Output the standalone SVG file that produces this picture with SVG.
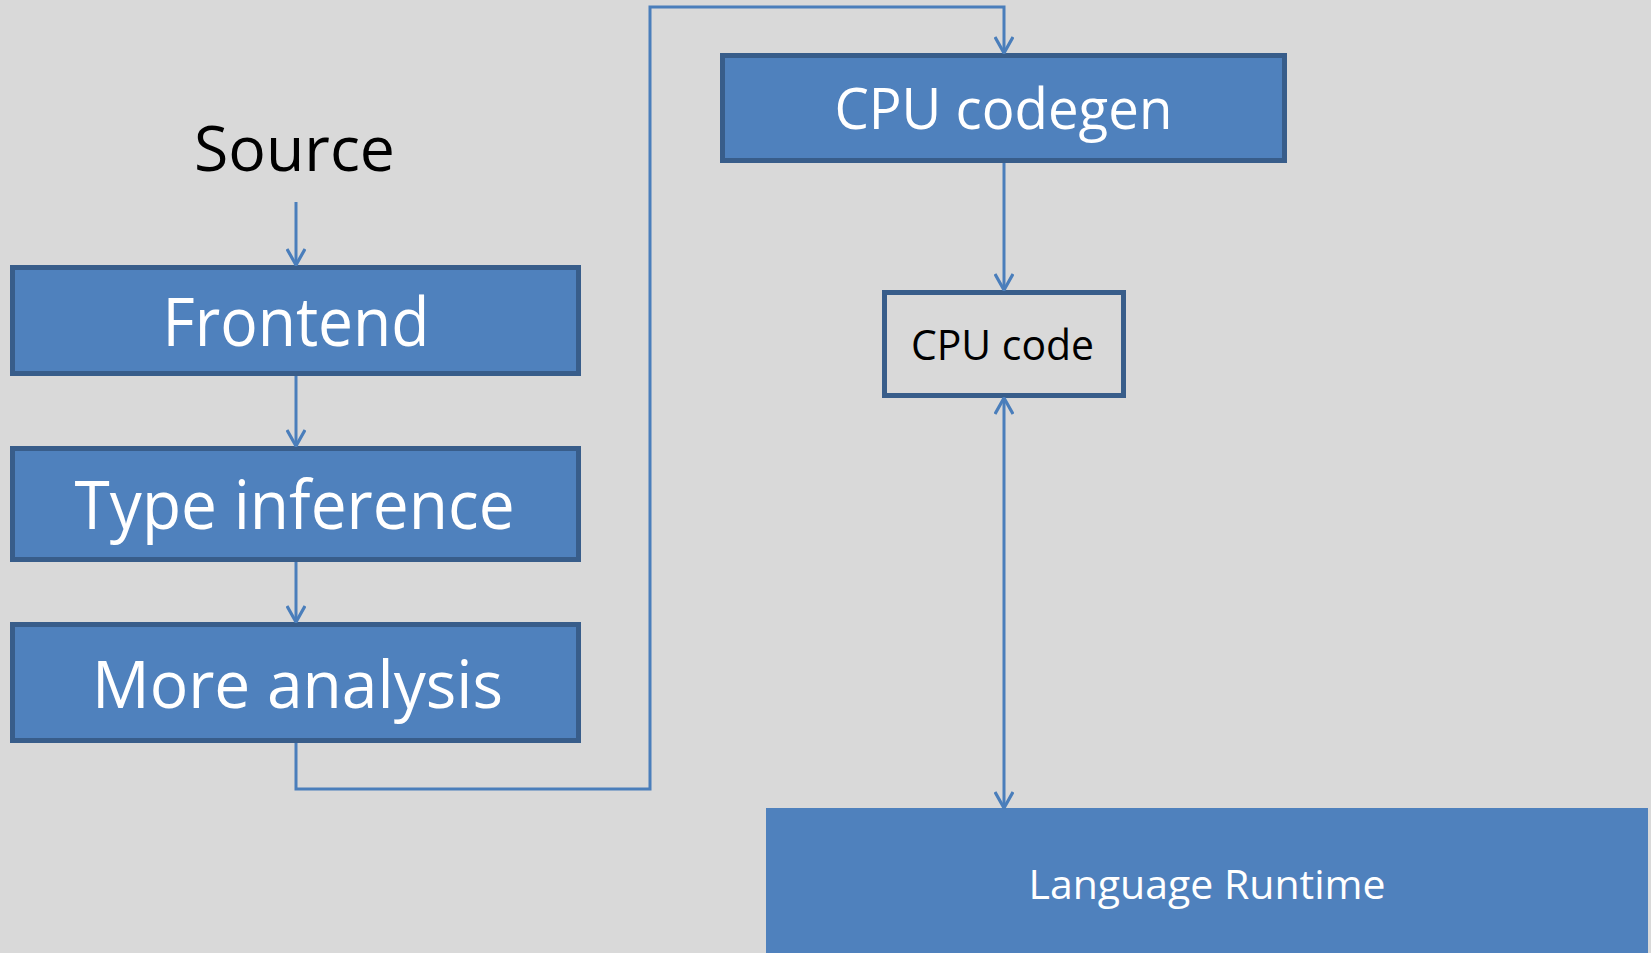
<svg xmlns="http://www.w3.org/2000/svg" width="1651" height="953" viewBox="0 0 1651 953">
  <defs>
    <style>
      .box { fill: #4F81BD; stroke: #385D8A; stroke-width: 5; }
      .plain { fill: #D9D9D9; stroke: #385D8A; stroke-width: 5; }
      .flat { fill: #4F81BD; stroke: none; }
      .lbl { font-family: "Open Sans", "Liberation Sans", sans-serif; text-anchor: middle; fill: #FFFFFF; }
      .dark { fill: #000000; }
      .conn { fill: none; stroke: #4A7EBB; stroke-width: 3; }
    </style>
    <marker id="arr" viewBox="0 0 18 20" refX="17" refY="10" markerWidth="18" markerHeight="20" markerUnits="userSpaceOnUse" orient="auto-start-reverse">
      <path d="M1,1 L17,10 L1,19" fill="none" stroke="#4A7EBB" stroke-width="3.2"/>
    </marker>
  </defs>
  <rect x="0" y="0" width="1651" height="953" fill="#D9D9D9"/>

  <g id="source">
    <text class="lbl dark" x="294.5" y="171" font-size="62" textLength="201" lengthAdjust="spacingAndGlyphs">Source</text>
  </g>
  <g id="frontend">
    <rect class="box" x="12.5" y="267.5" width="566" height="106"/>
    <text class="lbl" x="296" y="346" font-size="68" textLength="267" lengthAdjust="spacingAndGlyphs">Frontend</text>
  </g>
  <g id="type-inference">
    <rect class="box" x="12.5" y="448.5" width="566" height="111"/>
    <text class="lbl" x="294.6" y="529" font-size="67" textLength="440" lengthAdjust="spacingAndGlyphs">Type inference</text>
  </g>
  <g id="more-analysis">
    <rect class="box" x="12.5" y="624.5" width="566" height="116"/>
    <text class="lbl" x="297.5" y="708" font-size="66" textLength="411" lengthAdjust="spacingAndGlyphs">More analysis</text>
  </g>
  <g id="cpu-codegen">
    <rect class="box" x="722.5" y="55.5" width="562" height="105"/>
    <text class="lbl" x="1003.4" y="129" font-size="56" textLength="338" lengthAdjust="spacingAndGlyphs">CPU codegen</text>
  </g>
  <g id="cpu-code">
    <rect class="plain" x="884.5" y="292.5" width="239" height="103"/>
    <text class="lbl dark" x="1002.5" y="360" font-size="42" textLength="183" lengthAdjust="spacingAndGlyphs">CPU code</text>
  </g>
  <g id="language-runtime">
    <rect class="flat" x="766" y="808" width="882" height="145"/>
    <text class="lbl" x="1207" y="899" font-size="41" textLength="357" lengthAdjust="spacingAndGlyphs">Language Runtime</text>
  </g>

  <g id="connectors">
    <path class="conn" d="M296,202 V265" marker-end="url(#arr)"/>
    <path class="conn" d="M296,376 V446" marker-end="url(#arr)"/>
    <path class="conn" d="M296,562 V622" marker-end="url(#arr)"/>
    <path class="conn" d="M296,743 V789 H650 V7 H1004 V53" marker-end="url(#arr)"/>
    <path class="conn" d="M1004,163 V290" marker-end="url(#arr)"/>
    <path class="conn" d="M1004,398 V808" marker-start="url(#arr)" marker-end="url(#arr)"/>
  </g>
</svg>
